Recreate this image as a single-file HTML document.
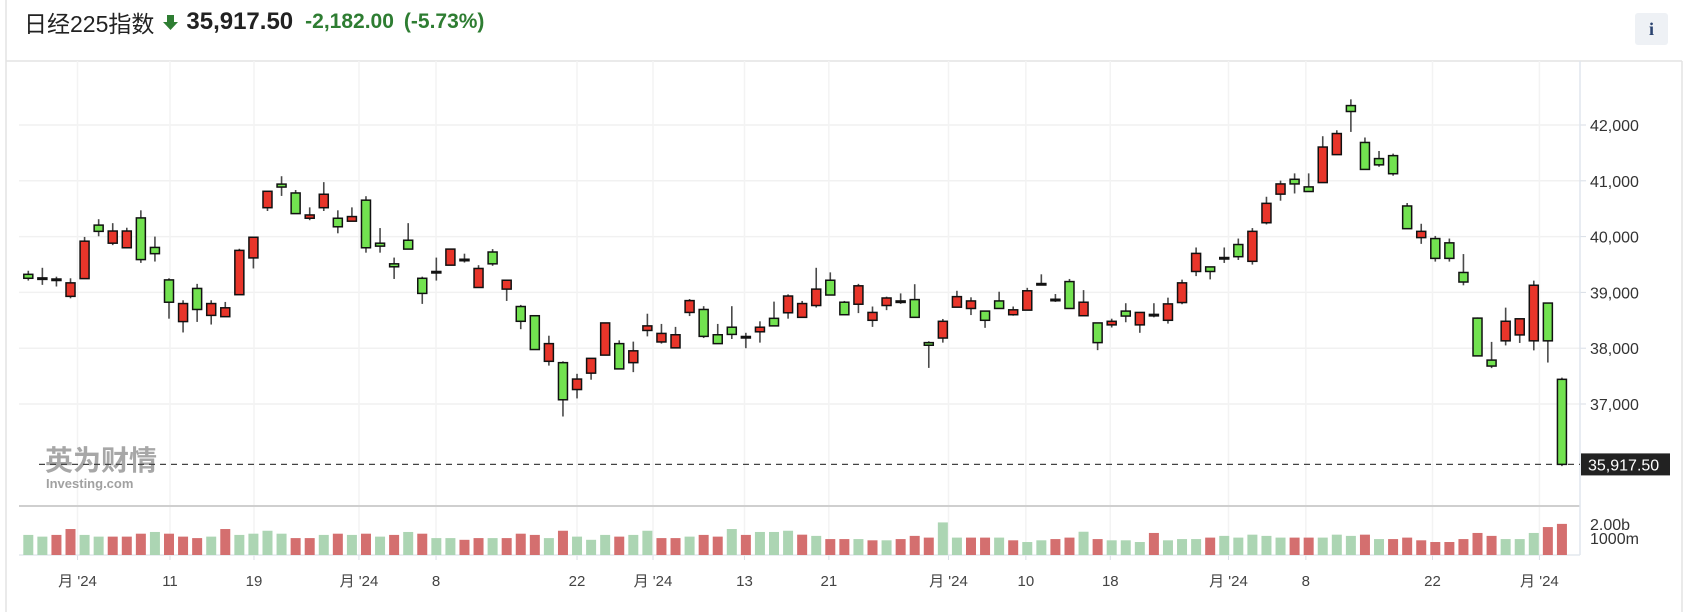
<!DOCTYPE html>
<html><head><meta charset="utf-8"><style>
html,body{margin:0;padding:0;background:#fff;}
body{width:1690px;height:612px;position:relative;overflow:hidden;font-family:"Liberation Sans","Noto Sans CJK SC",sans-serif;}
#hdr{position:absolute;left:24px;top:7px;height:30px;display:flex;align-items:center;white-space:nowrap;}
.t{font-size:23px;color:#222;}
.p{font-size:24px;font-weight:bold;color:#222;margin-left:8px;}
.c{font-size:21px;color:#2e7d32;margin-left:12px;font-weight:bold;}
#info{position:absolute;left:1635px;top:13px;width:33px;height:32px;background:#eef1f5;border-radius:3px;color:#2b4470;font-weight:bold;font-size:18px;text-align:center;line-height:32px;font-family:"Liberation Serif",serif;}
</style></head><body>
<div id="hdr">
<span class="t">日经225指数</span>
<svg width="15" height="17" style="margin-left:9px"><path d="M4 1h7v7h4l-7.5 8-7.5-8h4z" fill="#2e7d32"/></svg>
<span class="p">35,917.50</span>
<span class="c">-2,182.00</span>
<span class="c" style="margin-left:10px">(-5.73%)</span>
</div>
<div id="info">i</div>
<svg id="chart" width="1690" height="612" style="position:absolute;left:0;top:0"></svg>
<script>
const opens=[39324,39260,39240,38929,39247,40206,39882,39800,40335,39806,39224,38477,39071,38588,38565,38959,39618,40518,40941,40782,40329,40518,40329,40276,40653,39882,39512,39935,39253,39375,39488,39594,39088,39724,39059,38747,38582,37765,37741,37259,37553,37876,38082,37741,38318,38112,38006,38641,38694,38241,38376,38210,38294,38535,38635,38553,38765,39218,38824,38788,38500,38765,38847,38871,38100,38182,38735,38712,38665,38847,38600,38682,39159,38877,39194,38582,38453,38418,38665,38418,38606,38500,38818,39375,39457,39625,39858,39557,40248,40761,41027,40891,40968,41469,42348,41687,41398,41451,40549,39982,39965,39888,39357,38539,37787,38132,38238,38132,38809,37442];
const closes=[39253,39250,39235,39171,39918,40094,40100,40100,39588,39694,38824,38800,38694,38800,38724,39753,39988,40812,40888,40412,40388,40759,40176,40359,39800,39829,39459,39776,38982,39370,39776,39594,39429,39512,39218,38482,37976,38082,37076,37447,37818,38453,37629,37953,38400,38265,38241,38853,38212,38082,38247,38206,38376,38400,38935,38800,39059,38953,38600,39118,38641,38900,38840,38553,38053,38482,38924,38847,38500,38712,38688,39029,39155,38873,38712,38824,38100,38482,38576,38641,38600,38794,39171,39699,39375,39620,39640,40094,40596,40944,40944,40808,41605,41847,42242,41204,41286,41127,40142,40094,39610,39610,39186,37862,37680,38483,38527,39128,38132,35918];
const highs=[39388,39441,39282,39253,39994,40312,40241,40159,40471,40000,39253,38859,39153,38859,38829,39782,39988,40812,41082,40835,40524,40976,40471,40524,40724,40153,39624,40241,39282,39624,39776,39694,39488,39776,39218,38776,38582,38224,37765,37541,37818,38453,38141,38118,38618,38435,38382,38882,38753,38435,38753,38276,38482,38835,38965,38847,39441,39359,38847,39153,38747,38924,38982,39147,38124,38524,39029,38912,38665,39012,38747,39082,39324,38971,39241,39041,38453,38529,38806,38641,38806,38906,39229,39805,39457,39805,39965,40153,40714,41003,41133,41133,41799,41906,42460,41776,41534,41487,40602,40230,40012,39965,39687,38552,38113,38727,38527,39210,38809,37473];
const lows=[39212,39135,39106,38894,39247,40006,39847,39800,39529,39553,38529,38282,38471,38424,38565,38959,39429,40459,40729,40412,40294,40459,40059,40276,39712,39712,39241,39776,38794,39212,39488,39535,39088,39476,38847,38341,37976,37688,36776,37100,37435,37876,37629,37571,38212,38082,38006,38576,38182,38082,38165,38000,38100,38400,38529,38553,38729,38953,38600,38629,38382,38682,38794,38553,37647,38100,38735,38594,38365,38712,38582,38682,39129,38829,38712,38582,37965,38371,38465,38276,38553,38441,38788,39292,39233,39528,39581,39498,40218,40643,40773,40808,40968,41469,41876,41204,41251,41091,40142,39870,39552,39552,39127,37862,37643,38050,38094,37962,37743,35887];
const volumes=[1.17,1.10,1.17,1.41,1.17,1.10,1.10,1.10,1.22,1.29,1.22,1.10,1.04,1.10,1.41,1.17,1.22,1.34,1.22,1.04,1.04,1.17,1.22,1.17,1.22,1.10,1.17,1.29,1.22,1.04,1.04,0.97,1.04,1.04,1.04,1.22,1.17,1.04,1.34,1.10,0.97,1.17,1.10,1.17,1.34,1.04,1.04,1.10,1.17,1.10,1.41,1.17,1.29,1.29,1.34,1.18,1.13,1.00,1.00,1.00,0.95,0.95,1.00,1.13,1.06,1.68,1.06,1.06,1.06,1.06,0.95,0.88,0.95,1.00,1.06,1.30,1.00,0.95,0.95,0.88,1.25,0.95,1.00,1.00,1.06,1.13,1.06,1.18,1.13,1.06,1.06,1.06,1.06,1.18,1.13,1.18,1.00,1.00,1.06,0.95,0.88,0.88,1.00,1.25,1.13,1.00,1.00,1.25,1.49,1.62];
const volDir="GGRRGGRRRGRRRGRGGGGRRGRGRGRGRGGRRGRRRGRGGGRGGRRGRRGRGGGRGRRGRGRRRGGRRGRGGRRGRGGGRGGGRGGGGGRRGGGRGRRRRRRRRGGGRR".split("");
const priceTicks=[37000,38000,39000,40000,41000,42000];
const priceTickLabels=["37,000","38,000","39,000","40,000","41,000","42,000"];
const volTicks=[2.0,1.0];
const volTickLabels=["2.00b","1000m"];
const dateTickIdx=[3.5,10.07,16.04,23.5,28.98,39.0,44.4,50.9,56.9,65.4,70.9,76.9,85.3,90.8,99.8,107.4];
const dateTickLabels=["月 '24","11","19","月 '24","8","22","月 '24","13","21","月 '24","10","18","月 '24","8","22","月 '24"];
const lastPrice=35917.5;
const lastPriceLabel="35,917.50";

const NS="http://www.w3.org/2000/svg";
const svg=document.getElementById('chart');
const PL=19,PR=1580,PT=61,PB=506,VB=555;
const xAt=i=>28.3+14.07*i;
const yP=p=>125+(42000-p)*0.0558;
const yV=v=>VB-(v-0.35)*24.5;
const yVL=v=>552-v*14;
function mk(tag,a,parent){const e=document.createElementNS(NS,tag);for(const k in a)e.setAttribute(k,a[k]);(parent||svg).appendChild(e);return e;}

let e=mk('line',{x1:6,y1:0,x2:6,y2:612,stroke:'#e3e3e3','stroke-width':1.5});


e=mk('line',{x1:6,y1:61,x2:1682,y2:61,stroke:'#e3e3e3','stroke-width':1.5});


e=mk('line',{x1:1682,y1:61,x2:1682,y2:612,stroke:'#e3e3e3','stroke-width':1.5});



priceTicks.forEach((p,k)=>{
  const g=mk('line',{x1:PL,x2:PR,y1:yP(p),y2:yP(p),stroke:'#f1f1f1','stroke-width':1.5});
  
  
  const tm=mk('line',{x1:PR,x2:PR+6,y1:yP(p),y2:yP(p),stroke:'#d8dee6','stroke-width':1});
  
  
  const t=mk('text',{x:1590,y:yP(p)+6,'font-size':16,fill:'#333','font-family':'Liberation Sans, sans-serif'});
  t.textContent=priceTickLabels[k];
  
  
});
dateTickIdx.forEach((d,k)=>{
  const x=xAt(d);
  const g=mk('line',{x1:x,x2:x,y1:PT,y2:VB,stroke:'#f3f3f3','stroke-width':1.5});
  
  
  const tm=mk('line',{x1:x,x2:x,y1:VB,y2:VB+5,stroke:'#d8dee6','stroke-width':1});
  
  
  const t=mk('text',{x:x,y:586,'font-size':15,fill:'#444','text-anchor':'middle','font-family':'Liberation Sans, Noto Sans CJK SC, sans-serif'});
  t.textContent=dateTickLabels[k];
  
  
});

const wm=mk('text',{x:45,y:470,'font-size':28,'font-weight':'bold',fill:'#8a8a8a','fill-opacity':0.75,'font-family':'Noto Sans CJK SC, sans-serif'});
wm.textContent='英为财情';


const wm2=mk('text',{x:46,y:488,'font-size':13,'font-weight':'bold',fill:'#8a8a8a','fill-opacity':0.8,'font-family':'Liberation Sans, sans-serif'});
wm2.textContent='Investing.com';



e=mk('line',{x1:PL,x2:PR,y1:PB,y2:PB,stroke:'#cfcfcf','stroke-width':2});


e=mk('line',{x1:PL,x2:PR,y1:VB,y2:VB,stroke:'#e4e8ee','stroke-width':1.5});


e=mk('line',{x1:PR,x2:PR,y1:PT,y2:VB,stroke:'#e0e6ee','stroke-width':1.5});



volumes.forEach((v,i)=>{
  const y=yV(v);
  const r=mk('rect',{x:xAt(i)-5,y:y,width:10,height:VB-y,fill:volDir[i]==='R'?'#d46f6f':'#acd5b3'});
  
  
});
volTicks.forEach((v,k)=>{
  const t=mk('text',{x:1590,y:yVL(v)+6,'font-size':16,fill:'#333','font-family':'Liberation Sans, sans-serif'});
  t.textContent=volTickLabels[k];
  
  
});

e=mk('line',{x1:PL+20,x2:PR,y1:yP(lastPrice),y2:yP(lastPrice),stroke:'#444','stroke-width':1.3,'stroke-dasharray':'6,5'});



opens.forEach((o,i)=>{
  const c=closes[i],x=xAt(i);
  const w=mk('line',{x1:x,x2:x,y1:yP(highs[i]),y2:yP(lows[i]),stroke:'#4a4a4a','stroke-width':1.6});
  
  
  const top=yP(Math.max(o,c)),bot=yP(Math.min(o,c));
  const up=c>=o;
  const b=mk('rect',{x:x-4.5,y:top,width:9,height:Math.max(bot-top,1.5),fill:up?'#e8352a':'#72e250',stroke:'#111','stroke-width':1.5});
  
  
});

const bx=mk('rect',{x:1581,y:yP(lastPrice)-11,width:89,height:22,fill:'#222'});


const lt=mk('text',{x:1588,y:yP(lastPrice)+6,'font-size':16,fill:'#fff','font-family':'Liberation Sans, sans-serif'});
lt.textContent=lastPriceLabel;


</script>
</body></html>
